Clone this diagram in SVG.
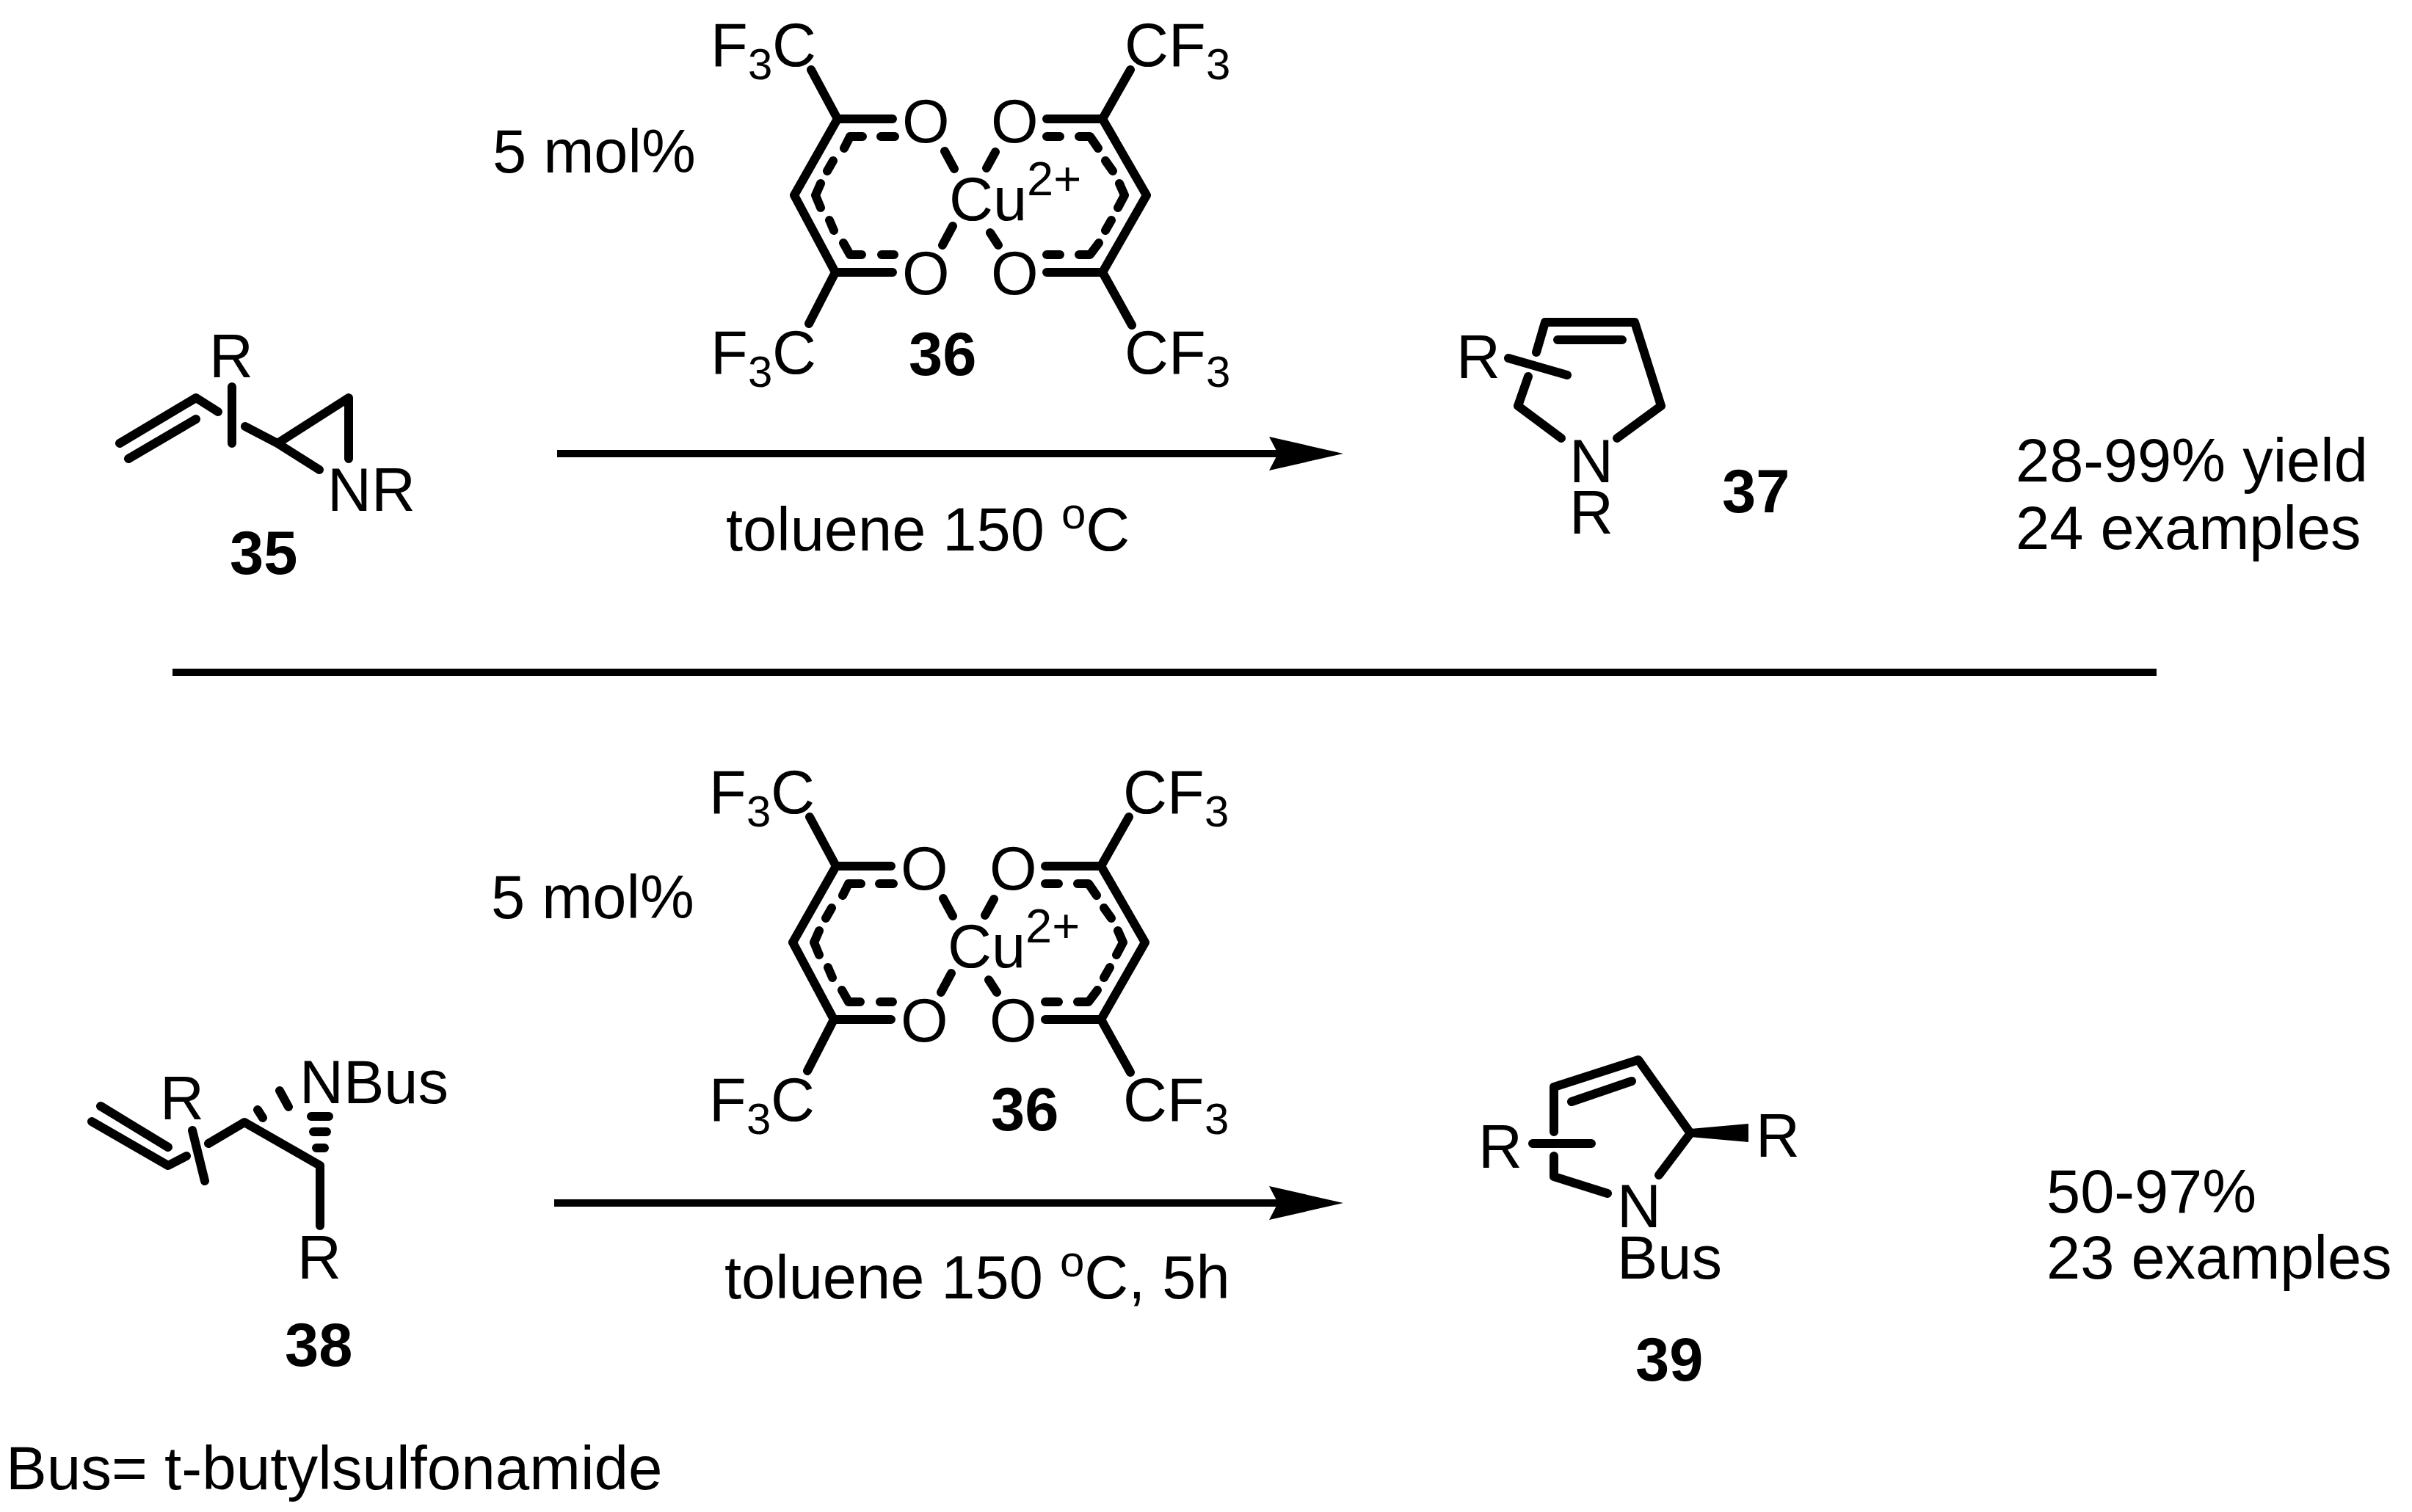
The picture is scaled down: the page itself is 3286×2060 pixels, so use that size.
<svg xmlns="http://www.w3.org/2000/svg" width="3286" height="2060" viewBox="0 0 3286 2060">
<style>
text{font-family:"Liberation Sans",Arial,sans-serif;font-size:83px;fill:#000}
.b{font-weight:bold}
.s{font-size:60px}
.p{font-size:65px}
path{fill:none;stroke:#000;stroke-width:12;stroke-linecap:round;stroke-linejoin:round}
.t{stroke-width:10;stroke-linecap:butt}
.h{fill:#000;stroke:none}
</style>
<defs>
<marker id="ah" markerUnits="userSpaceOnUse" markerWidth="110" markerHeight="50" refX="12" refY="25" orient="auto"><polygon points="0,2 101,25 0,48 12,25" fill="#000"/></marker>
</defs>
<rect width="3286" height="2060" fill="#fff"/>
<g id="connectors">
<path class="t" d="M759 618H1741" marker-end="url(#ah)"/>
<path class="t" d="M235 916H2938"/>
<path class="t" d="M755 1639H1741" marker-end="url(#ah)"/>
</g>
<g id="compound-35">
<path d="M163 604L267 542L297 561M175 625L267 571M316 527V604M334 581L378 604L435 640M378 604L475 542V625"/>
<text x="285" y="514">R</text><text x="446" y="696">NR</text><text class="b" x="313" y="782">35</text>
</g>
<g id="catalyst-36-top">
<path d="M1105 95L1141 162H1216M1102 441L1138 371H1216M1540 95L1502 162H1426M1542 443L1502 371H1426M1141 162L1082 266L1138 371M1502 162L1562 266L1502 371"/>
<path d="M1200 186H1219M1175 186H1158L1150 202M1135 219L1127 233M1118 250L1111 266L1118 283M1130 300L1136 314M1149 331L1158 347H1174M1201 347H1218M1426 186H1444M1470 186H1485L1496 202M1506 219L1516 233M1525 250L1532 266L1523 283M1514 300L1506 314M1497 331L1485 347H1470M1444 347H1426"/>
<path d="M1287 206L1300 230M1356 207L1344 229M1298 308L1284 334M1349 317L1360 334"/>
<text x="968" y="90">F</text><text class="s" x="1019" y="108">3</text><text x="1052" y="90">C</text>
<text x="968" y="509">F</text><text class="s" x="1019" y="527">3</text><text x="1052" y="509">C</text>
<text x="1532" y="90">CF</text><text class="s" x="1643" y="108">3</text>
<text x="1532" y="509">CF</text><text class="s" x="1643" y="527">3</text>
<text x="1229" y="194">O</text><text x="1350" y="194">O</text><text x="1229" y="401">O</text><text x="1350" y="401">O</text>
<text x="1293" y="300">Cu</text><text class="p" x="1399" y="266">2+</text>
<text class="b" x="1238" y="511">36</text>
</g>
<g id="compound-37">
<path d="M2093 480L2105 439H2227L2263 553L2203 597M2082 513L2068 553L2127 597M2122 463H2210M2055 488L2135 511"/>
<text x="1984" y="515">R</text><text x="2138" y="657">N</text><text x="2138" y="727">R</text><text class="b" x="2346" y="698">37</text>
</g>
<g id="labels">
<text x="671" y="235">5 mol%</text>
<text x="989" y="750">toluene 150 <tspan class="s" dy="-30">o</tspan><tspan dy="30">C</tspan></text>
<text x="2746" y="656">28-99% yield</text>
<text x="2746" y="748">24 examples</text>
<text x="669" y="1251">5 mol%</text>
<text x="987" y="1769">toluene 150 <tspan class="s" dy="-30">o</tspan><tspan dy="30">C, 5h</tspan></text>
<text x="2788" y="1652">50-97%</text>
<text x="2788" y="1742">23 examples</text>
<text x="8" y="2029" style="font-size:83.6px">Bus= t-butylsulfonamide</text>
</g>
<g id="compound-38">
<path d="M125 1528L229 1588L254 1575M137 1507L229 1563M262 1540L279 1609M284 1558L333 1529L436 1588V1670"/>
<path d="M351 1512L358 1523M381 1486L393 1508M424 1521H448M427 1542H445M431 1564H442"/>
<text x="218" y="1525">R</text><text x="408" y="1503">NBus</text><text x="405" y="1742">R</text><text class="b" x="388" y="1861">38</text>
</g>
<g id="catalyst-36-bottom" transform="translate(-2 1018)">
<path d="M1105 95L1141 162H1216M1102 441L1138 371H1216M1540 95L1502 162H1426M1542 443L1502 371H1426M1141 162L1082 266L1138 371M1502 162L1562 266L1502 371"/>
<path d="M1200 186H1219M1175 186H1158L1150 202M1135 219L1127 233M1118 250L1111 266L1118 283M1130 300L1136 314M1149 331L1158 347H1174M1201 347H1218M1426 186H1444M1470 186H1485L1496 202M1506 219L1516 233M1525 250L1532 266L1523 283M1514 300L1506 314M1497 331L1485 347H1470M1444 347H1426"/>
<path d="M1287 206L1300 230M1356 207L1344 229M1298 308L1284 334M1349 317L1360 334"/>
<text x="968" y="90">F</text><text class="s" x="1019" y="108">3</text><text x="1052" y="90">C</text>
<text x="968" y="509">F</text><text class="s" x="1019" y="527">3</text><text x="1052" y="509">C</text>
<text x="1532" y="90">CF</text><text class="s" x="1643" y="108">3</text>
<text x="1532" y="509">CF</text><text class="s" x="1643" y="527">3</text>
<text x="1229" y="194">O</text><text x="1350" y="194">O</text><text x="1229" y="401">O</text><text x="1350" y="401">O</text>
<text x="1293" y="300">Cu</text><text class="p" x="1399" y="266">2+</text>
<text class="b" x="1352" y="522">36</text>
</g>
<g id="compound-39">
<path d="M2117 1542V1481L2232 1444L2303 1544L2260 1601M2117 1575V1603L2190 1626M2141 1501L2223 1473M2088 1558H2168"/>
<polygon class="h" points="2303,1538 2382,1531 2382,1556 2303,1549"/>
<text x="2014" y="1591">R</text><text x="2392" y="1576">R</text><text x="2203" y="1672">N</text><text x="2203" y="1742">Bus</text><text class="b" x="2228" y="1881">39</text>
</g>
</svg>
